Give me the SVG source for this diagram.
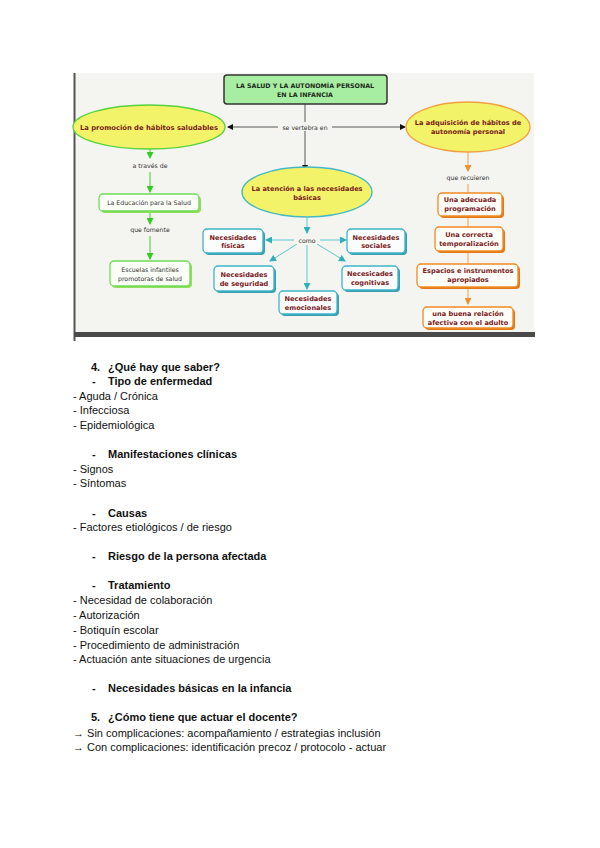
<svg xmlns="http://www.w3.org/2000/svg" width="600" height="848" viewBox="0 0 600 848">
<style>
.bg{fill:#ffffff}
.t{font-family:"Liberation Sans",Arial,sans-serif;font-size:11px;fill:#111}
.b{font-weight:bold}
.nb{font-family:"DejaVu Sans",Verdana,sans-serif;font-size:6.6px;font-weight:bold;fill:#7a1c1c;text-anchor:middle}
.nn{font-family:"DejaVu Sans",Verdana,sans-serif;font-size:6.2px;fill:#333;text-anchor:middle}
.lbl{font-family:"DejaVu Sans",Verdana,sans-serif;font-size:6.2px;fill:#333;text-anchor:middle}
.ell{fill:#f3f36a;stroke-width:1.3}
.gbox{fill:#fbfdf7;stroke:#6fdc55;stroke-width:1.3}
.tbox{fill:#fbfdfd;stroke:#3db5c6;stroke-width:1.3}
.obox{fill:#fffdf8;stroke:#f08a22;stroke-width:1.3}
.gsh{fill:#8fdf5a}
.tsh{fill:#3a9fb0}
.osh{fill:#e2781a}
.cg{stroke:#44cc33;stroke-width:1;fill:none}
.ct{stroke:#5cc8cc;stroke-width:1;fill:none}
.co{stroke:#f4a050;stroke-width:1;fill:none}
.ck{stroke:#333;stroke-width:0.8;fill:none}
</style>
<defs>
<marker id="ak" markerWidth="6" markerHeight="6" refX="5" refY="3" orient="auto" markerUnits="userSpaceOnUse"><path d="M0,0 L6,3 L0,6 z" fill="#111"/></marker>
<marker id="ag" markerWidth="7" markerHeight="7" refX="6" refY="3.5" orient="auto" markerUnits="userSpaceOnUse"><path d="M0,0 L7,3.5 L0,7 z" fill="#33cc22"/></marker>
<marker id="at" markerWidth="7" markerHeight="7" refX="6" refY="3.5" orient="auto" markerUnits="userSpaceOnUse"><path d="M0,0 L7,3.5 L0,7 z" fill="#2fb0b8"/></marker>
<marker id="ao" markerWidth="7" markerHeight="7" refX="6" refY="3.5" orient="auto" markerUnits="userSpaceOnUse"><path d="M0,0 L7,3.5 L0,7 z" fill="#f09030"/></marker>
</defs>
<rect class="bg" x="0" y="0" width="600" height="848"/>

<!-- image frame -->
<rect x="74" y="73" width="460" height="262" fill="#f4f4f0"/>
<line x1="74.5" y1="73" x2="74.5" y2="341" stroke="#555" stroke-width="2"/>
<rect x="74" y="332" width="461" height="5" fill="#4a4a4a"/>

<!-- connectors -->
<g id="connectors">
<line class="ck" x1="305" y1="104" x2="305" y2="170" marker-end="url(#ak)"/>
<line class="ck" x1="278" y1="127" x2="228" y2="127" marker-end="url(#ak)"/>
<line class="ck" x1="332" y1="127" x2="405" y2="127" marker-end="url(#ak)"/>
<line class="cg" x1="150" y1="149" x2="150" y2="158" marker-end="url(#ag)"/>
<line class="cg" x1="150" y1="172" x2="150" y2="192" marker-end="url(#ag)"/>
<line class="cg" x1="150" y1="211" x2="150" y2="224" marker-end="url(#ag)"/>
<line class="cg" x1="150" y1="236" x2="150" y2="259" marker-end="url(#ag)"/>
<line class="ct" x1="307" y1="218" x2="307" y2="233" marker-end="url(#at)"/>
<line class="ct" x1="294" y1="240" x2="266" y2="240" marker-end="url(#at)"/>
<line class="ct" x1="320" y1="240" x2="346" y2="240" marker-end="url(#at)"/>
<line class="ct" x1="297" y1="244" x2="270" y2="261" marker-end="url(#at)"/>
<line class="ct" x1="317" y1="244" x2="345" y2="261" marker-end="url(#at)"/>
<line class="ct" x1="307" y1="245" x2="307" y2="289" marker-end="url(#at)"/>
<line class="co" x1="468" y1="152" x2="468" y2="171" marker-end="url(#ao)"/>
<line class="co" x1="468" y1="184" x2="468" y2="193"/>
<line class="co" x1="468" y1="216" x2="468" y2="227"/>
<line class="co" x1="468" y1="251" x2="468" y2="264"/>
<line class="co" x1="468" y1="287" x2="468" y2="304" marker-end="url(#ao)"/>
</g>

<!-- connector labels -->
<g id="labels">
<rect x="279" y="122" width="52" height="9" fill="#f4f4f0"/>
<text class="lbl" x="305" y="129.5">se vertebra en</text>
<text class="lbl" x="150" y="168">a través de</text>
<text class="lbl" x="150" y="232">que fomente</text>
<rect x="296" y="236" width="22" height="8" fill="#f4f4f0"/>
<text class="lbl" x="307" y="242.5">como</text>
<text class="lbl" x="468" y="180">que recuieren</text>
</g>

<g id="title">
<rect x="224" y="75" width="163" height="29" rx="3" fill="#a8eea2" stroke="#333" stroke-width="1.5"/>
<text class="nb" x="305" y="88" style="fill:#1d2a1d;font-size:6.3px">LA SALUD Y LA AUTONOMÍA PERSONAL</text>
<text class="nb" x="305" y="97" style="fill:#1d2a1d;font-size:6.3px">EN LA INFANCIA</text>
</g>

<g id="promocion">
<ellipse class="ell" cx="149" cy="127" rx="76" ry="22" stroke="#55d23c"/>
<text class="nb" x="149" y="130" style="font-size:6.8px">La promoción de hábitos saludables</text>
</g>

<g id="adquisicion">
<ellipse class="ell" cx="468" cy="127" rx="62" ry="25" stroke="#f0a040"/>
<text class="nb" x="468" y="125">La adquisición de hábitos de</text>
<text class="nb" x="468" y="134">autonomía personal</text>
</g>

<g id="atencion">
<ellipse class="ell" cx="307" cy="192" rx="65" ry="25" stroke="#45b8c4"/>
<text class="nb" x="307" y="191">La atención a las necesidades</text>
<text class="nb" x="307" y="200">básicas</text>
</g>

<g id="educacion">
<rect class="gsh" x="101" y="196" width="100" height="17" rx="4"/>
<rect class="gbox" x="99" y="194" width="100" height="17" rx="4"/>
<text class="nn" x="149" y="205">La Educación para la Salud</text>
</g>

<g id="escuelas">
<rect class="gsh" x="112" y="263" width="80" height="25" rx="4"/>
<rect class="gbox" x="110" y="261" width="80" height="25" rx="4"/>
<text class="nn" x="150" y="271.5">Escuelas infantiles</text>
<text class="nn" x="150" y="280.5">promotoras de salud</text>
</g>

<g id="fisicas">
<rect class="tsh" x="205" y="231" width="60" height="24" rx="4"/>
<rect class="tbox" x="203" y="229" width="60" height="24" rx="4"/>
<text class="nb" x="233" y="239.5">Necesidades</text>
<text class="nb" x="233" y="248">físicas</text>
</g>

<g id="seguridad">
<rect class="tsh" x="216" y="268" width="60" height="25" rx="4"/>
<rect class="tbox" x="214" y="266" width="60" height="25" rx="4"/>
<text class="nb" x="244" y="276.5">Necesidades</text>
<text class="nb" x="244" y="285.5">de seguridad</text>
</g>

<g id="emocionales">
<rect class="tsh" x="281" y="293" width="58" height="23" rx="4"/>
<rect class="tbox" x="279" y="291" width="58" height="23" rx="4"/>
<text class="nb" x="308" y="300.5">Necesidades</text>
<text class="nb" x="308" y="309.5">emocionales</text>
</g>

<g id="sociales">
<rect class="tsh" x="349" y="231" width="58" height="24" rx="4"/>
<rect class="tbox" x="347" y="229" width="58" height="24" rx="4"/>
<text class="nb" x="376" y="239.5">Necesidades</text>
<text class="nb" x="376" y="248">sociales</text>
</g>

<g id="cognitivas">
<rect class="tsh" x="344" y="268" width="56" height="24" rx="4"/>
<rect class="tbox" x="342" y="266" width="56" height="24" rx="4"/>
<text class="nb" x="370" y="276">Necesicades</text>
<text class="nb" x="370" y="285">cognitivas</text>
</g>

<g id="programacion">
<rect class="osh" x="440" y="195" width="64" height="23" rx="4"/>
<rect class="obox" x="438" y="193" width="64" height="23" rx="4"/>
<text class="nb" x="470" y="202">Una adecuada</text>
<text class="nb" x="470" y="211">programación</text>
</g>

<g id="temporalizacion">
<rect class="osh" x="437" y="229" width="68" height="24" rx="4"/>
<rect class="obox" x="435" y="227" width="68" height="24" rx="4"/>
<text class="nb" x="469" y="236.5">Una correcta</text>
<text class="nb" x="469" y="245.5">temporalización</text>
</g>

<g id="espacios">
<rect class="osh" x="419" y="266" width="101" height="23" rx="4"/>
<rect class="obox" x="417" y="264" width="101" height="23" rx="4"/>
<text class="nb" x="468" y="273">Espacios e instrumentos</text>
<text class="nb" x="468" y="282">apropiados</text>
</g>

<g id="relacion">
<rect class="osh" x="425" y="309" width="90" height="21" rx="4"/>
<rect class="obox" x="423" y="307" width="90" height="21" rx="4"/>
<text class="nb" x="468" y="315.5">una buena relación</text>
<text class="nb" x="468" y="324.5">afectiva con el adulto</text>
</g>

<!-- text body -->
<g id="body">
<text class="t b" x="91" y="371">4.</text>
<text class="t b" x="108" y="371">¿Qué hay que saber?</text>
<text class="t b" x="92" y="385">-</text>
<text class="t b" x="108" y="385">Tipo de enfermedad</text>
<text class="t" x="73" y="400">- Aguda  / Crónica</text>
<text class="t" x="73" y="414">- Infecciosa</text>
<text class="t" x="73" y="429">- Epidemiológica</text>
<text class="t b" x="92" y="458">-</text>
<text class="t b" x="108" y="458">Manifestaciones clínicas</text>
<text class="t" x="73" y="473">- Signos</text>
<text class="t" x="73" y="487">- Síntomas</text>
<text class="t b" x="92" y="517">-</text>
<text class="t b" x="108" y="517">Causas</text>
<text class="t" x="73" y="531">- Factores etiológicos / de riesgo</text>
<text class="t b" x="92" y="560">-</text>
<text class="t b" x="108" y="560">Riesgo de la persona afectada</text>
<text class="t b" x="92" y="589">-</text>
<text class="t b" x="108" y="589">Tratamiento</text>
<text class="t" x="73" y="604">- Necesidad de colaboración</text>
<text class="t" x="73" y="619">- Autorización</text>
<text class="t" x="73" y="634">- Botiquín escolar</text>
<text class="t" x="73" y="649">- Procedimiento de administración</text>
<text class="t" x="73" y="663">- Actuación ante situaciones de urgencia</text>
<text class="t b" x="92" y="692">-</text>
<text class="t b" x="108" y="692">Necesidades básicas en la infancia</text>
<text class="t b" x="91" y="721">5.</text>
<text class="t b" x="108" y="721">¿Cómo tiene que actuar el docente?</text>
<text class="t" x="73" y="737">→ Sin complicaciones: acompañamiento  / estrategias inclusión</text>
<text class="t" x="73" y="751">→ Con complicaciones: identificación precoz / protocolo - actuar</text>
</g>
</svg>
